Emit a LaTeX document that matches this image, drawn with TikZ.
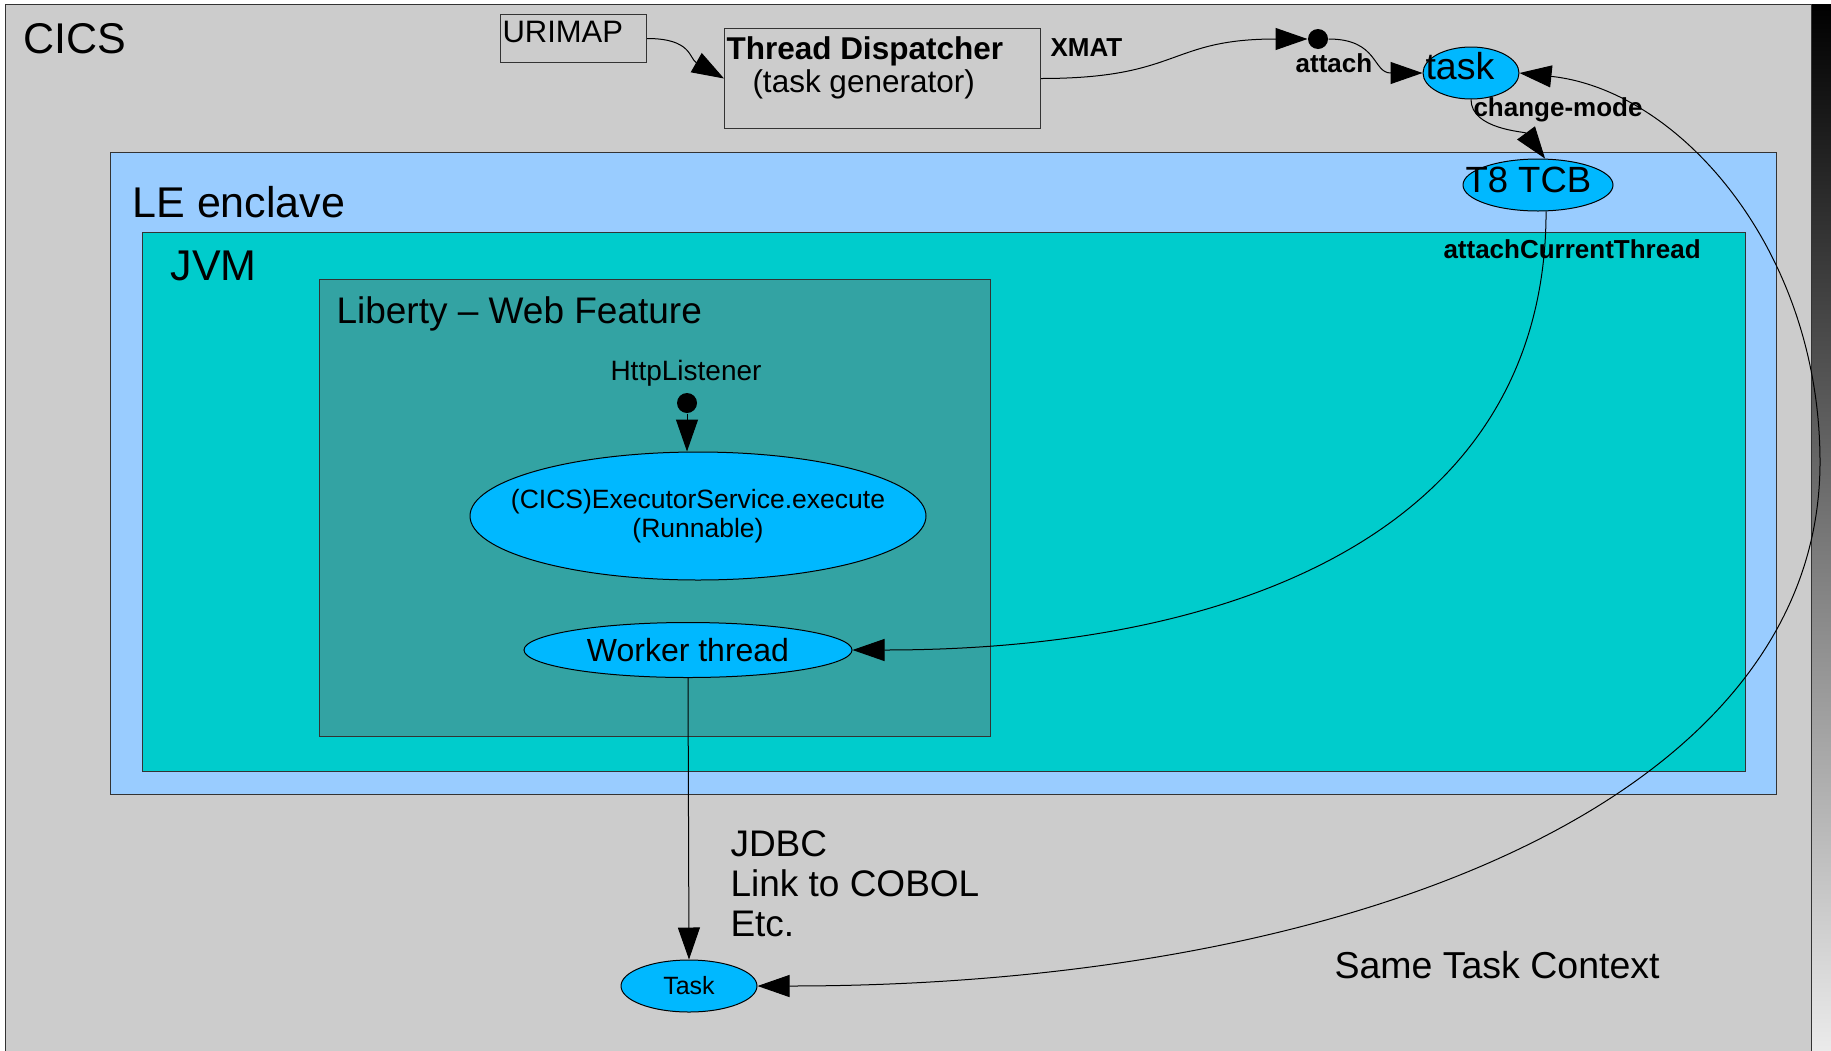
\documentclass[tikz,border=0pt]{standalone}
\usepackage{fontspec}
\setmainfont{Liberation Sans}
\usetikzlibrary{arrows.meta, positioning, shapes.geometric, calc}

\definecolor{cicsgray}{HTML}{CCCCCC}
\definecolor{leblue}{HTML}{99CCFF}
\definecolor{jvmcyan}{HTML}{00CCCC}
\definecolor{libteal}{HTML}{33A3A3}
\definecolor{skyblue}{HTML}{00B8FF}

\begin{document}
\begin{tikzpicture}[x=1pt, y=-1pt, >={Triangle[length=32pt, width=22pt]},
    line width=1pt,
    area/.style={draw=black!80, anchor=north west, inner sep=0},
    oval/.style={ellipse, draw, fill=skyblue, inner sep=0},
    blob/.style={circle, fill=black, minimum size=20pt, inner sep=0},
    txt/.style={inner sep=0, anchor=base west},
    huge/.style={txt, font=\fontsize{43}{50}\selectfont},
    mid/.style={txt, font=\fontsize{37}{40}\selectfont},
    bold/.style={txt, font=\fontsize{26}{30}\selectfont\bfseries}
]
    \useasboundingbox (0,0) rectangle (1831,1050);
    \fill[white] (0,0) rectangle (1831,1050);

    % Containers
    \node[area, fill=cicsgray, minimum width=1806pt, minimum height=1047pt] (cics) at (5,4) {};
    \shade[top color=black, bottom color=white!92!black] (1812,4) rectangle (1831,1050);
    \node[area, fill=leblue, minimum width=1666pt, minimum height=642pt] (enclave) at (110,152) {};
    \node[area, fill=jvmcyan, minimum width=1603pt, minimum height=539pt] (jvm) at (142,232) {};
    \node[area, fill=libteal, minimum width=671pt, minimum height=457pt] (liberty) at (319,279) {};

    % Titles
    \node[huge] (cicslbl) at (23,53) {CICS};
    \node[huge] (enclavelbl) at (132,217) {LE enclave};
    \node[huge] (jvmlbl) at (170,280) {JVM};
    \node[mid] (libertylbl) at (336,323) {Liberty – Web Feature};

    % Top row
    \node[area, fill=cicsgray, minimum width=146pt, minimum height=48pt] (urimap) at (500,14) {};
    \node[txt, font=\fontsize{31}{34}\selectfont] (urimaptxt) at (502,42) {URIMAP};
    \node[area, fill=cicsgray, minimum width=316pt, minimum height=100pt] (disp) at (724,28) {};
    \node[txt, font=\fontsize{31.5}{34}\selectfont\bfseries] (disptxt) at (726,59) {Thread Dispatcher};
    \node[txt, font=\fontsize{31.5}{34}\selectfont] (gentxt) at (752,92) {(task generator)};
    \node[bold] (xmat) at (1050,56) {XMAT};
    \node[blob] (adot) at (1318,39) {};
    \node[bold, anchor=base] (attach) at (1334,72) {attach};
    \node[oval, minimum width=96pt, minimum height=52pt] (task) at (1471,73) {};
    \node[txt, font=\fontsize{37.5}{40}\selectfont] (tasktxt) at (1425,79) {task};
    \node[bold] (chmode) at (1473,116) {change-mode};
    \node[oval, minimum width=150pt, minimum height=52pt] (tcb) at (1538,185) {};
    \node[txt, font=\fontsize{36.5}{40}\selectfont] (tcbtxt) at (1465,192) {T8 TCB};
    \node[bold] (actlbl) at (1443,258) {attachCurrentThread};

    % Liberty part
    \node[txt, anchor=base, font=\fontsize{28}{30}\selectfont] (httplbl) at (686,380) {HttpListener};
    \node[blob] (hdot) at (687,403) {};
    \node[oval, minimum width=456pt, minimum height=128pt, inner xsep=-30pt, align=center,
          font=\fontsize{26.5}{29}\selectfont] (exec) at (698,516) {(CICS)ExecutorService.execute\\(Runnable)};
    \node[oval, minimum width=328pt, minimum height=55pt,
          font=\fontsize{32}{34}\selectfont] (worker) at (688,650) {Worker thread};

    % Bottom part
    \node[oval, minimum width=136pt, minimum height=52pt,
          font=\fontsize{25}{28}\selectfont] (taskB) at (689,986) {Task};
    \node[txt, anchor=north west, align=left, font=\fontsize{37}{40}\selectfont] (calls) at (730,830) {JDBC\\Link to COBOL\\Etc.};
    \node[txt, font=\fontsize{37.5}{40}\selectfont] (samectx) at (1334,978) {Same Task Context};
    \coordinate (ctx) at (1820,462);

    % Lines
    \draw[->] (urimap.east) .. controls +(45,0) and +(-35,-20) .. (disp.west);
    \draw[->] (disp.east) .. controls +(140,0) and +(-140,0) .. (adot.west);
    \draw[->] (adot.east) .. controls +(50,0) and +(-50,0) .. (task.west);
    \draw[->] (task.south) .. controls +(0,30) and +(-20,-27) .. (tcb.75);
    \draw[->] (tcb.-73) .. controls +(0,310) and +(400,0) .. (worker.east);
    \draw[->] (hdot) -- (hdot |- exec.north);
    \draw[->] (worker.south) -- (taskB.north);
    \draw[<->] (taskB.east) .. controls +(594,0) and +(0,338) .. (ctx)
        .. controls +(0,-212) and +(160,17) .. (task.east);
\end{tikzpicture}
\end{document}
